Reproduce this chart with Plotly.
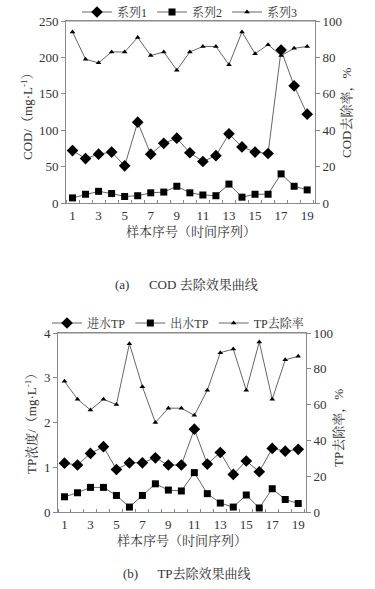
import plotly.graph_objects as go

samples = list(range(1, 20))
x_ticks = [1, 3, 5, 7, 9, 11, 13, 15, 17, 19]

cod_in = [72, 61, 67, 70, 51, 111, 67, 82, 89, 69, 57, 65, 95, 77, 70, 68, 210, 161, 122]
cod_out = [7, 12, 16, 13, 9, 10, 14, 15, 23, 14, 11, 10, 26, 8, 12, 12, 40, 23, 18]
cod_rate = [94, 79, 77, 83, 83, 91, 81, 83, 73, 83, 86, 86, 76, 94, 82, 87, 81, 85, 86]

tp_in = [1.09, 1.05, 1.31, 1.46, 0.95, 1.10, 1.10, 1.21, 1.05, 1.05, 1.85, 1.07, 1.33, 0.84, 1.14, 0.90, 1.42, 1.36, 1.40]
tp_out = [0.34, 0.43, 0.55, 0.55, 0.37, 0.11, 0.37, 0.63, 0.49, 0.47, 0.88, 0.41, 0.20, 0.11, 0.38, 0.09, 0.52, 0.28, 0.19]
tp_rate = [73, 63, 57, 63, 60, 94, 70, 50, 58, 58, 54, 68, 89, 91, 68, 95, 63, 85, 87]

names_a = ["系列1", "系列2", "系列3"]
names_b = ["进水TP", "出水TP", "TP去除率"]

FONT = "Liberation Serif, Noto Serif CJK SC, Noto Sans CJK SC, serif"
LINE = "#666666"
AX = "#8a8a8a"
W, H = 375, 589

def px(v):
    return v / W

def py(v):
    return 1 - v / H

fig = go.Figure()

def add(x, y, name, sym, size, xa, ya, legend):
    fig.add_trace(go.Scatter(
        x=x, y=y, name=name, mode="lines+markers",
        line=dict(color=LINE, width=1),
        marker=dict(symbol=sym, size=size, color="black"),
        xaxis=xa, yaxis=ya, legend=legend))

add(samples, cod_in, names_a[0], "diamond", 9, "x", "y", "legend")
add(samples, cod_out, names_a[1], "square", 7, "x", "y", "legend")
add(samples, cod_rate, names_a[2], "triangle-up", 5, "x", "y2", "legend")
add(samples, tp_in, names_b[0], "diamond", 9, "x2", "y3", "legend2")
add(samples, tp_out, names_b[1], "square", 7, "x2", "y3", "legend2")
add(samples, tp_rate, names_b[2], "triangle-up", 5, "x2", "y4", "legend2")

tickfont = dict(family=FONT, size=13, color="#333")
common_y = dict(showline=True, linecolor=AX, linewidth=1, ticks="outside", ticklen=4,
                tickcolor=AX, showgrid=False, zeroline=False, tickfont=tickfont,
                automargin=False)
common_x = dict(showline=True, linecolor=AX, linewidth=1, ticks="", showgrid=False,
                zeroline=False, tickfont=tickfont, tickvals=x_ticks, range=[0.5, 19.6],
                automargin=False,
                minor=dict(tick0=0.5, dtick=1, ticks="inside", ticklen=3, tickcolor=AX,
                           showgrid=False))

leg_font = dict(family=FONT, size=12, color="#333")

fig.update_layout(
    template="none",
    width=W, height=H,
    margin=dict(l=0, r=0, t=0, b=0, autoexpand=False),
    paper_bgcolor="white", plot_bgcolor="white",
    font=dict(family=FONT, size=13, color="#333"),
    xaxis=dict(domain=[px(66), px(315)], anchor="y", mirror=True, **common_x),
    yaxis=dict(domain=[py(203), py(21)], range=[0, 250], tickvals=[0, 50, 100, 150, 200, 250],
               anchor="x", **common_y),
    yaxis2=dict(range=[0, 100], tickvals=[0, 20, 40, 60, 80, 100], overlaying="y", side="right",
                anchor="x", **common_y),
    xaxis2=dict(domain=[px(58), px(306)], anchor="y3", mirror=True, **common_x),
    yaxis3=dict(domain=[py(512), py(333)], range=[0, 4], tickvals=[0, 1, 2, 3, 4],
                anchor="x2", **common_y),
    yaxis4=dict(range=[0, 100], tickvals=[0, 20, 40, 60, 80, 100], overlaying="y3", side="right",
                anchor="x2", **common_y),
    legend=dict(orientation="h", x=px(190), xanchor="center", y=py(12), yanchor="middle",
                font=leg_font, bgcolor="rgba(0,0,0,0)", tracegroupgap=0),
    legend2=dict(orientation="h", x=px(178), xanchor="center", y=py(323), yanchor="middle",
                 font=leg_font, bgcolor="rgba(0,0,0,0)", tracegroupgap=0),
    showlegend=True,
)

# top border lines for the plot boxes
fig.add_shape(type="line", xref="paper", yref="paper", x0=px(66), x1=px(315), y0=py(21), y1=py(21),
              line=dict(color=AX, width=1))
fig.add_shape(type="line", xref="paper", yref="paper", x0=px(58), x1=px(306), y0=py(333), y1=py(333),
              line=dict(color=AX, width=1))

def ann(text, x, y, angle=0, size=13):
    fig.add_annotation(text=text, x=px(x), y=py(y), xref="paper", yref="paper",
                       showarrow=False, textangle=angle, xanchor="center", yanchor="middle",
                       font=dict(family=FONT, size=size, color="#333"))

ann("COD/（mg·L<sup>-1</sup>）", 27, 113, -90)
ann("COD去除率，%", 347, 113, -90)
ann("样本序号（时间序列）", 191, 231)
ann("(a)　  COD 去除效果曲线", 186, 284)

ann("TP浓度/（mg·L<sup>-1</sup>）", 31, 421, -90)
ann("TP去除率，%", 339, 428, -90)
ann("样本序号（时间序列）", 182, 540)
ann("(b)　  TP去除效果曲线", 187, 573)

fig.write_html("out.html", config={"displayModeBar": False},
               post_script="document.body.style.margin='0px';")
